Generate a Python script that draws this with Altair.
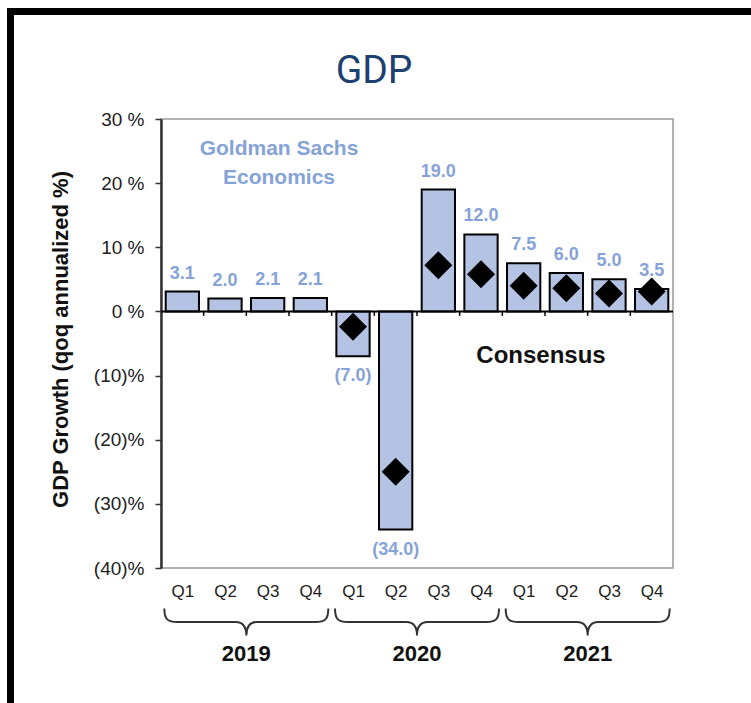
import altair as alt
import pandas as pd

# Quarterly real GDP growth, qoq annualized (%)
quarters = ["Q1", "Q2", "Q3", "Q4"] * 3
years = ["2019", "2020", "2021"]
gs_growth = [3.1, 2.0, 2.1, 2.1, -7.0, -34.0, 19.0, 12.0, 7.5, 6.0, 5.0, 3.5]
consensus = [None, None, None, None, -2.4, -25.0, 7.2, 5.8, 4.0, 3.6, 2.8, 3.1]
y_ticks = [30, 20, 10, 0, -10, -20, -30, -40]

df = pd.DataFrame({
    "quarter": quarters,
    "year": [y for y in years for _ in range(4)],
    "gs": gs_growth,
    "consensus": consensus,
})
df["idx"] = range(len(df))

year_df = pd.DataFrame({"year": years, "center": [4 * i + 2 for i in range(len(years))]})
bounds_df = pd.DataFrame({"b": list(range(1, len(df)))})
one = pd.DataFrame({"k": [0]})

W, H = 512, 449
LIGHT_BLUE = "#86a3d8"
BAR_FILL = "#b4c3e3"

x_scale = alt.Scale(domain=[0, len(df)], nice=False, zero=False)
y_scale = alt.Scale(domain=[-40, 30], nice=False, zero=False)

x_axis = alt.Axis(
    values=[i + 0.5 for i in range(len(df))],
    labelExpr="['Q1','Q2','Q3','Q4'][floor(datum.value) % 4]",
    ticks=False, domain=False, grid=False, title=None,
    labelFontSize=17, labelPadding=15, labelColor="#222",
)
y_axis = alt.Axis(
    values=y_ticks,
    labelExpr="datum.value < 0 ? '(' + (-datum.value) + ')%' : datum.value + ' %'",
    grid=False, domainColor="#333", domainWidth=2.5,
    tickColor="#333", tickSize=6, tickWidth=1.5,
    labelFontSize=19, labelPadding=11, labelColor="#222",
    title="GDP Growth (qoq annualized %)",
    titleFontSize=22, titleFontWeight="bold", titleColor="#111",
    titleAngle=-90, titleX=-101, titleY=220,
    titleAlign="center", titleBaseline="middle",
)

base = alt.Chart(df)

bars = base.transform_calculate(
    x0="datum.idx + 0.11", x1="datum.idx + 0.89"
).mark_bar(fill=BAR_FILL, stroke="black", strokeWidth=2).encode(
    x=alt.X("x0:Q", scale=x_scale, axis=x_axis),
    x2="x1:Q",
    y=alt.Y("gs:Q", scale=y_scale, axis=y_axis),
    y2=alt.datum(0),
)

zero_line = alt.Chart(one).mark_rule(color="black", strokeWidth=2).encode(
    y=alt.datum(0)
)

bound_ticks = alt.Chart(bounds_df).mark_rule(color="black", strokeWidth=1.5).encode(
    x=alt.X("b:Q"), y=alt.datum(0), y2=alt.datum(-0.7)
)

diamonds = base.transform_filter("isValid(datum.consensus)").transform_calculate(
    xc="datum.idx + 0.5"
).mark_point(shape="diamond", filled=True, color="black", size=784, opacity=1).encode(
    x="xc:Q", y="consensus:Q"
)

label_calc = "datum.gs < 0 ? '(' + format(-datum.gs, '.1f') + ')' : format(datum.gs, '.1f')"
pos_labels = base.transform_filter("datum.gs >= 0").transform_calculate(
    xc="datum.idx + 0.5", lbl=label_calc
).mark_text(fontSize=18, fontWeight="bold", color=LIGHT_BLUE, baseline="alphabetic", dy=-13).encode(
    x="xc:Q", y="gs:Q", text="lbl:N"
)
neg_labels = base.transform_filter("datum.gs < 0").transform_calculate(
    xc="datum.idx + 0.5", lbl=label_calc
).mark_text(fontSize=18, fontWeight="bold", color=LIGHT_BLUE, baseline="top", dy=11).encode(
    x="xc:Q", y="gs:Q", text="lbl:N"
)

gs_note = alt.Chart(one).mark_text(
    fontSize=21, fontWeight="bold", color=LIGHT_BLUE, lineBreak="\n",
    lineHeight=29, baseline="alphabetic", align="center",
).encode(x=alt.value(118), y=alt.value(36), text=alt.value("Goldman Sachs\nEconomics"))

cons_note = alt.Chart(one).mark_text(
    fontSize=24, fontWeight="bold", color="#111", baseline="alphabetic", align="center"
).encode(x=alt.value(380), y=alt.value(244), text=alt.value("Consensus"))

title = alt.Chart(one).mark_text(
    fontSize=39, font="Roboto", color="#1d4170", baseline="alphabetic", align="center"
).encode(x=alt.value(213), y=alt.value(-36), text=alt.value("GDP"))

brace_path = (
    "M -1 -0.165 C -1 -0.03 -0.96 0 -0.84 0 L -0.13 0 "
    "C -0.04 0 0 0.06 0 0.165 C 0 0.06 0.04 0 0.13 0 "
    "L 0.84 0 C 0.96 0 1 -0.03 1 -0.165"
)
braces = alt.Chart(year_df).mark_point(
    shape=brace_path, filled=False, stroke="#333", strokeWidth=2, opacity=1, size=164 * 164
).encode(x="center:Q", y=alt.value(H + 54))

year_labels = alt.Chart(year_df).mark_text(
    fontSize=22, fontWeight="bold", color="#111", baseline="alphabetic", align="center"
).encode(x="center:Q", y=alt.value(H + 93), text="year:N")

frame = alt.Chart(one).mark_rect(fillOpacity=0, stroke="black", strokeWidth=7).encode(
    x=alt.value(-150.5), x2=alt.value(700), y=alt.value(-107.5), y2=alt.value(700)
)

chart = alt.layer(
    frame, bars, zero_line, bound_ticks, diamonds, pos_labels, neg_labels,
    gs_note, cons_note, title, braces, year_labels,
).properties(
    width=W, height=H,
    autosize=alt.AutoSizeParams(type="none"),
    padding={"left": 161, "top": 119, "right": 78, "bottom": 135},
    background="white",
).configure(
    font="Liberation Sans"
).configure_view(
    stroke="#9a9a9a", strokeWidth=1.5
)

chart.save("out.html", embed_options={"renderer": "svg", "actions": False})
